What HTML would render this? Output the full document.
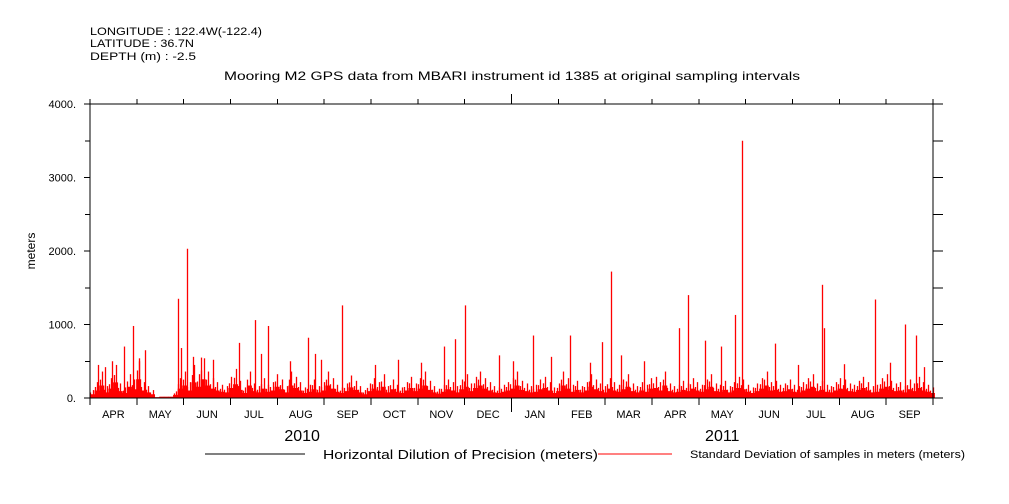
<!DOCTYPE html>
<html><head><meta charset="utf-8"><style>
body{margin:0;background:#fff;width:1009px;height:504px;overflow:hidden}
svg{display:block;font-family:"Liberation Sans",sans-serif}
</style></head><body>
<svg id="chart" width="1009" height="504">
<g font-size="11" fill="#000">
<text x="90" y="35" textLength="172" lengthAdjust="spacingAndGlyphs">LONGITUDE : 122.4W(-122.4)</text>
<text x="90" y="47" textLength="104" lengthAdjust="spacingAndGlyphs">LATITUDE : 36.7N</text>
<text x="90" y="60" textLength="106" lengthAdjust="spacingAndGlyphs">DEPTH (m) : -2.5</text>
<text x="224" y="80" font-size="12" textLength="576" lengthAdjust="spacingAndGlyphs">Mooring M2 GPS data from MBARI instrument id 1385 at original sampling intervals</text>
</g>
<text x="35" y="251" font-size="12" transform="rotate(-90 35 251)" text-anchor="middle">meters</text>
<g id="marks"></g>
<g id="axes" shape-rendering="crispEdges"></g>
<g>
<line x1="205" y1="454" x2="305" y2="454" stroke="#000"/>
<text x="323" y="459" font-size="13" textLength="275" lengthAdjust="spacingAndGlyphs">Horizontal Dilution of Precision (meters)</text>
<line x1="598" y1="454" x2="672" y2="454" stroke="#f00"/>
<text x="690" y="458" font-size="11" textLength="275" lengthAdjust="spacingAndGlyphs">Standard Deviation of samples in meters (meters)</text>
</g>
</svg>
<script>
const months = ["APR","MAY","JUN","JUL","AUG","SEP","OCT","NOV","DEC","JAN","FEB","MAR","APR","MAY","JUN","JUL","AUG","SEP"];
const yTicks = [0,1000,2000,3000,4000];
const yTickLabels = ["0.","1000.","2000.","3000.","4000."];
const years = [["2010",4.53],["2011",13.5]];
// base level per 3-day bin (548 days)
const baseVals = [60,120,200,90,150,250,110,80,180,140,300,120,90,60,40,60,60,60,50,150,200,120,250,180,300,200,150,120,100,90,160,220,130,80,200,110,90,150,100,120,180,140,90,200,160,120,80,100,140,90,
120,200,150,100,80,110,170,130,90,60,110,150,120,180,90,140,100,80,120,160,110,150,200,130,90,70,100,140,120,90,140,180,110,160,200,150,120,90,80,100,120,150,200,130,110,90,100,140,160,120,
80,110,200,150,100,130,90,120,180,140,110,90,150,120,100,140,180,110,90,120,100,150,160,120,200,110,90,100,130,110,150,120,100,140,180,110,100,130,90,120,160,140,100,80,110,150,200,120,130,100,
110,140,100,90,120,150,180,110,130,100,90,120,150,140,110,100,130,160,120,90,100,150,180,130,110,120,90,140,110,160,120,100,80];
const spikeDays = [5,10,14,22,28,32,36,57,59,63,67,72,80,97,107,111,116,130,142,146,150,164,185,200,215,230,237,244,266,275,288,300,312,325,333,339,345,360,383,389,400,410,419,424,445,460,476,477,490,510,520,530,537,542];
const spikeVals = [450,420,500,700,980,500,650,1350,680,2030,560,550,520,750,1060,600,980,500,820,600,520,1260,450,520,480,700,800,1260,580,500,850,560,850,480,760,1720,580,500,950,1400,780,700,1130,3500,740,450,1540,950,460,1340,480,1000,850,420];
const X0=90,X1=933,Y0=398,Y1=104,DAYS=548;
const xs=d=>X0+(d/DAYS)*(X1-X0);
const ys=v=>Y0-(v/4000)*(Y0-Y1);
const px=x=>Math.round(x)+0.5;
const NS="http://www.w3.org/2000/svg";
const marks=document.getElementById('marks'),axes=document.getElementById('axes');
function mk(p,tag,a){const e=document.createElementNS(NS,tag);for(const k in a)e.setAttribute(k,a[k]);p.appendChild(e);return e;}
baseVals.forEach((v,i)=>{
 const d=i*3;
 if(d>=DAYS) return;
 const bw=xs(d+3)-xs(d);
 const inGap=(d>=42&&d<54);
 const h=inGap?v*0.3:v*0.85;
 const r=mk(marks,'rect',{x:xs(d),y:ys(h),width:bw+0.4,height:Y0-ys(h),fill:'#f00'});
 
 
 if(inGap) return;
 const l=mk(marks,'line',{x1:px(xs(d)+bw*0.6),x2:px(xs(d)+bw*0.6),y1:Y0,y2:ys(v*1.8),stroke:'#f00','stroke-width':1.3});
 
 
 const l2=mk(marks,'line',{x1:px(xs(d)+bw*0.1),x2:px(xs(d)+bw*0.1),y1:Y0,y2:ys(v*1.25),stroke:'#f00','stroke-width':1.3});
 
 
});
spikeDays.forEach((d,i)=>{
 const l=mk(marks,'line',{x1:px(xs(d)),x2:px(xs(d)),y1:Y0,y2:ys(spikeVals[i]),stroke:'#f00','stroke-width':1.3});
 
 
});
const frame=mk(axes,'rect',{x:X0,y:Y1,width:X1-X0,height:Y0-Y1,fill:'none',stroke:'#000'});


for(let v=0;v<=4000;v+=500){
 const y=ys(v),len=(v%1000===0)?6:5;
 mk(axes,'line',{x1:X0-len,x2:X0,y1:y,y2:y,stroke:'#000'});
 mk(axes,'line',{x1:X1,x2:X1+10,y1:y,y2:y,stroke:'#000'});
}
yTicks.forEach((v,i)=>{
 const t=mk(axes,'text',{x:76,y:ys(v)+4,'text-anchor':'end','font-size':11});
 t.textContent=yTickLabels[i];
 
 
});
const mw=(X1-X0)/months.length;
for(let i=0;i<=months.length;i++){
 const x=X0+i*mw, big=(i===9);
 mk(axes,'line',{x1:x,x2:x,y1:Y0,y2:Y0+(big?14:7),stroke:'#000'});
 mk(axes,'line',{x1:x,x2:x,y1:Y1,y2:Y1-(big?10:5),stroke:'#000'});
}
months.forEach((m,i)=>{
 const t=mk(axes,'text',{x:X0+(i+0.5)*mw,y:418,'text-anchor':'middle','font-size':11});
 t.textContent=m;
 
 
});
years.forEach(([y,m])=>{
 const t=mk(axes,'text',{x:X0+m*mw,y:441,'text-anchor':'middle','font-size':16});
 t.textContent=y;
 
 
});
</script>
</body></html>
